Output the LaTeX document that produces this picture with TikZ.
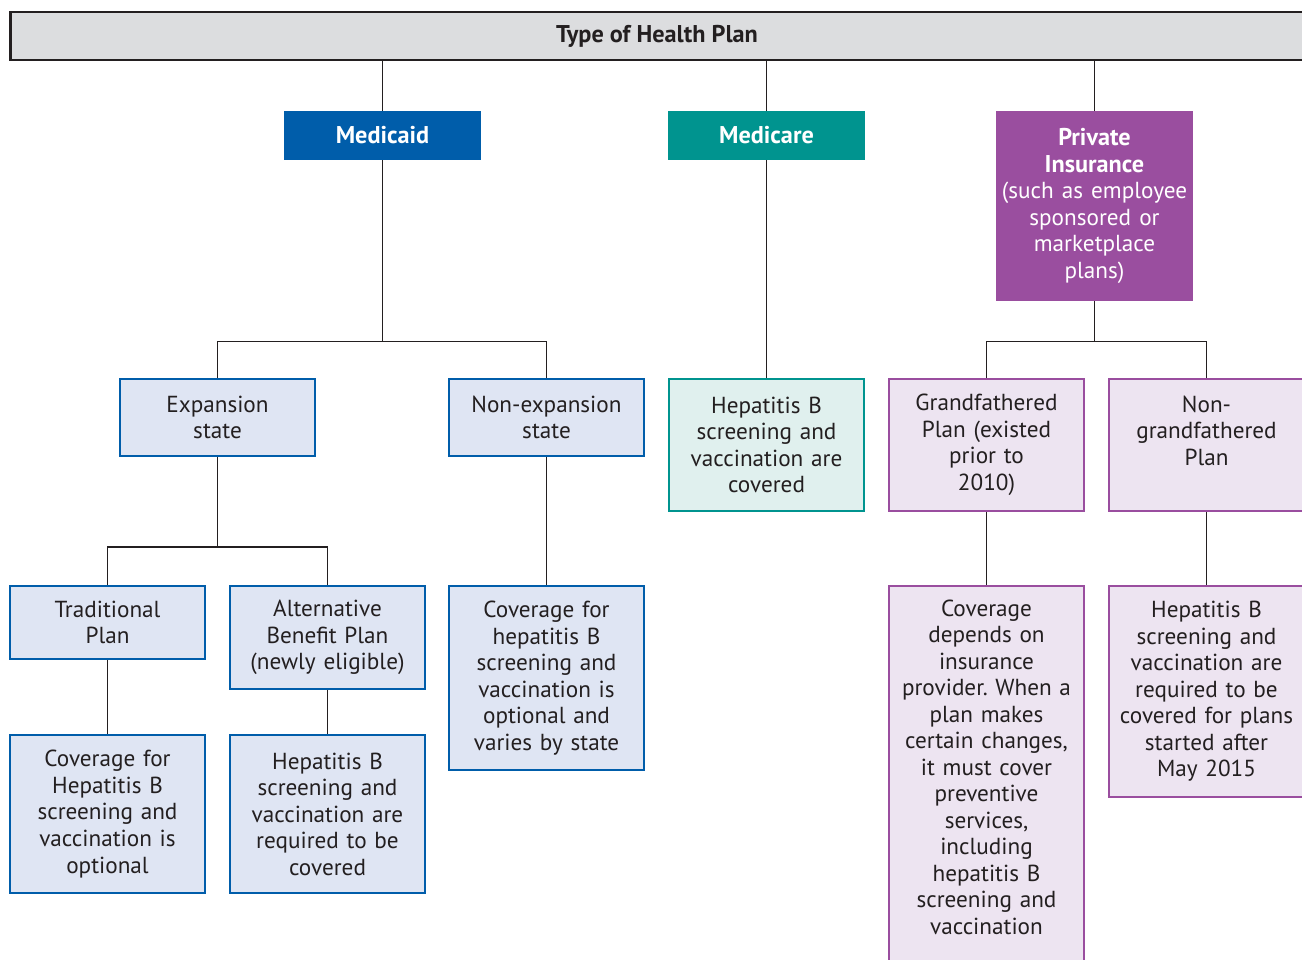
\documentclass[tikz,border=0pt]{standalone}
\usepackage{fontspec}
\setmainfont{PT Sans}
\usetikzlibrary{positioning}
\definecolor{inkgray}{RGB}{35,31,32}
\definecolor{titlegray}{RGB}{220,221,223}
\definecolor{caidblue}{RGB}{0,93,170}
\definecolor{caidlight}{RGB}{223,229,243}
\definecolor{careteal}{RGB}{0,148,143}
\definecolor{carelight}{RGB}{224,240,238}
\definecolor{privpurple}{RGB}{154,78,159}
\definecolor{privlight}{RGB}{237,228,241}
\newcommand*{\bodyfont}{\fontsize{13.2}{15.1}\selectfont}
\newcommand*{\headfont}{\fontsize{13.8}{15.1}\selectfont\bfseries}
\newcommand*{\plainfont}{\bodyfont\mdseries}
\frenchspacing

\begin{document}
\begin{tikzpicture}[x=0.02cm,y=-0.02cm,
      every node/.style={align=center, inner sep=0pt, text=inkgray, font=\bodyfont},
      link/.style={draw=inkgray, line width=0.85pt},
      head/.style={fill=#1, text=white, font=\headfont, minimum width=3.94cm, text width=3.8cm},
      leaf/.style={draw=#1, line width=1.4pt, minimum width=3.9cm, text width=3.7cm},
      caidbox/.style={leaf=caidblue, fill=caidlight},
      carebox/.style={leaf=careteal, fill=carelight},
      privbox/.style={leaf=privpurple, fill=privlight}]
  \useasboundingbox (0,0) rectangle (1302,960);
  \clip (0,0) rectangle (1302,960);
  % top bar
  \node[draw=inkgray, fill=titlegray, line width=1.7pt, minimum width=25.88cm, minimum height=0.96cm,
        font=\headfont] (plan) at (657,36) {Type of Health Plan};
  % plan types
  \node[head=caidblue, minimum height=0.98cm] (medicaid) at (382.5,135.5) {Medicaid};
  \node[head=careteal, minimum height=0.98cm] (medicare) at (766.5,135.5) {Medicare};
  \node[head=privpurple, minimum height=3.8cm] (private) at (1094.5,206)
      {Private\\Insurance\\\plainfont(such as employee\\\plainfont sponsored or\\\plainfont marketplace\\\plainfont plans)};
  % second row
  \node[caidbox, minimum height=1.54cm] (exp) at (217.5,417.5) {Expansion\\state};
  \node[caidbox, minimum height=1.54cm] (nonexp) at (546.5,417.5) {Non-expansion\\state};
  \node[carebox, minimum height=2.64cm] (medhep) at (766.5,445)
      {Hepatitis B\\screening and\\vaccination are\\covered};
  \node[privbox, minimum height=2.64cm] (grand) at (986.5,445)
      {Grandfathered\\Plan (existed\\prior to\\2010)};
  \node[privbox, minimum height=2.64cm, text depth=1.64cm] (nongrand) at (1206.5,445)
      {Non-\\grandfathered\\Plan};
  % third row
  \node[caidbox, minimum height=1.46cm] (trad) at (107.5,622.5) {Traditional\\Plan};
  \node[caidbox, minimum height=2.06cm] (alt) at (327.5,637.5)
      {Alternative\\Benefit Plan\\(newly eligible)};
  \node[caidbox, minimum height=3.68cm] (nonexpcov) at (546.5,678)
      {Coverage for\\hepatitis B\\screening and\\vaccination is\\optional and\\varies by state};
  \node[privbox, minimum height=7.8cm, text depth=6.93cm] (grandcov) at (986.5,781)
      {Coverage\\depends on\\insurance\\provider. When a\\plan makes\\certain changes,\\it must cover\\preventive\\services,\\including\\hepatitis B\\screening and\\vaccination};
  \node[privbox, minimum height=4.22cm] (nongrandcov) at (1206.5,691.5)
      {Hepatitis B\\screening and\\vaccination are\\required to be\\covered for plans\\started after\\May 2015};
  % fourth row
  \node[caidbox, minimum height=3.16cm] (tradcov) at (107.5,814)
      {Coverage for\\Hepatitis B\\screening and\\vaccination is\\optional};
  \node[caidbox, minimum height=3.16cm] (altcov) at (327.5,814)
      {Hepatitis B\\screening and\\vaccination are\\required to be\\covered};
  % connectors
  \draw[link] (medicaid.north) -- (medicaid.north |- plan.south);
  \draw[link] (medicare.north) -- (medicare.north |- plan.south);
  \draw[link] (private.north) -- (private.north |- plan.south);
  \draw[link] (medicaid.south) -- ++(0,181) coordinate (caidjoin);
  \draw[link] (exp.north) |- (caidjoin) -| (nonexp.north);
  \draw[link] (medicare) -- (medhep);
  \draw[link] (private.south) -- ++(0,40) coordinate (privjoin);
  \draw[link] (grand.north) |- (privjoin) -| (nongrand.north);
  \draw[link] (exp.south) -- ++(0,90) coordinate (expjoin);
  \draw[link] (trad.north) |- (expjoin) -| (alt.north);
  \draw[link] (nonexp) -- (nonexpcov);
  \draw[link] (grand) -- (grandcov);
  \draw[link] (nongrand.south) -- (nongrandcov.north);
  \draw[link] (trad) -- (tradcov);
  \draw[link] (alt) -- (altcov);
\end{tikzpicture}
\end{document}
